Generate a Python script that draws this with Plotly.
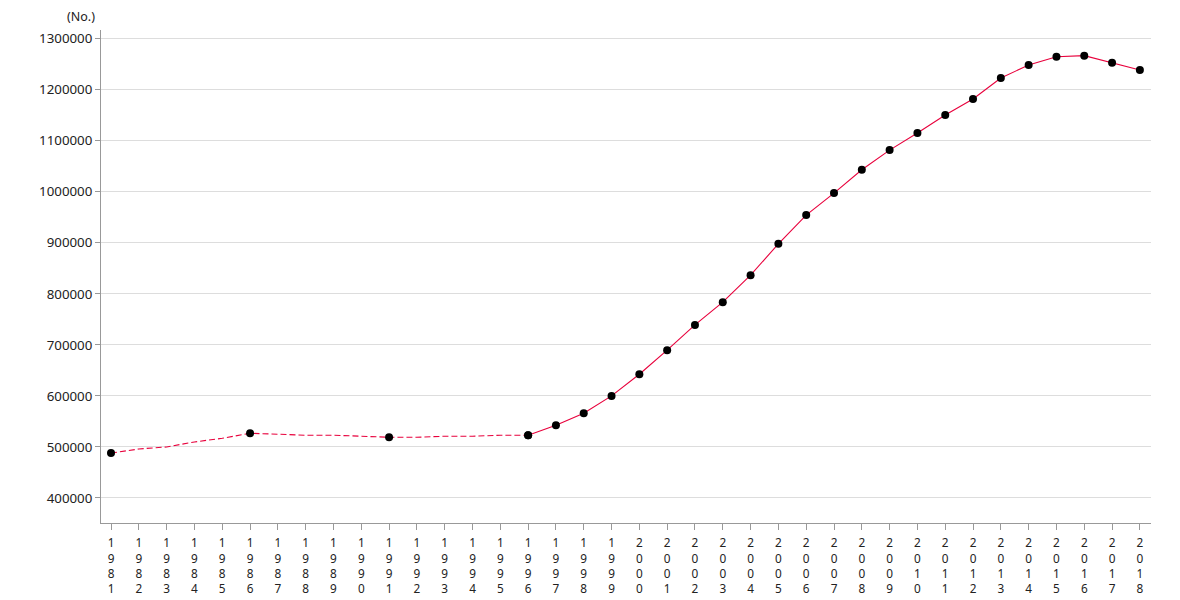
import plotly.graph_objects as go

# Interpolated (dashed) period
years_dash = list(range(1981, 1997))
values_dash = [488000, 496000, 500000, 509800, 517000, 526800, 525000, 523000,
               523000, 521000, 519000, 519000, 521000, 521000, 523000, 523000]

# Measured points in the early period
years_meas_early = [1981, 1986, 1991, 1996]
values_meas_early = [488000, 526800, 519000, 523000]

# Annual series
years_solid = list(range(1996, 2019))
values_solid = [523000, 542500, 566000, 600000, 642500, 689600, 739200, 783700,
                836600, 898000, 954300, 997400, 1043100, 1081700, 1115100, 1150300,
                1181700, 1222900, 1248400, 1264700, 1266700, 1252900, 1238600]

all_years = list(range(1981, 2019))
tick_text = ["<br>".join(str(y)) for y in all_years]
y_ticks = list(range(400000, 1300001, 100000))

LINE = "#e8003c"

fig = go.Figure()
fig.add_trace(go.Scatter(x=years_dash, y=values_dash, mode="lines",
                         line=dict(color=LINE, width=1.1, dash="6px,3px"),
                         showlegend=False, hoverinfo="skip"))
fig.add_trace(go.Scatter(x=years_solid, y=values_solid, mode="lines+markers",
                         line=dict(color=LINE, width=1.1),
                         marker=dict(color="black", size=8),
                         showlegend=False))
fig.add_trace(go.Scatter(x=years_meas_early, y=values_meas_early, mode="markers",
                         marker=dict(color="black", size=8),
                         showlegend=False))

fig.update_layout(
    width=1180, height=600,
    margin=dict(l=93, r=37, t=22, b=85),
    plot_bgcolor="white", paper_bgcolor="white",
    font=dict(family="Noto Sans, Open Sans, sans-serif", size=12, color="#222"),
    xaxis=dict(range=[1980.64, 2018.4], tickmode="array", tickvals=all_years,
               ticktext=tick_text, showgrid=False, showline=True,
               linecolor="#999", linewidth=1, ticks="outside", ticklen=6,
               tickcolor="#999", zeroline=False, tickangle=0, automargin=False,
               ticklabelstandoff=3,
               tickfont=dict(size=11.8, color="#222")),
    yaxis=dict(range=[351000, 1317000], tickmode="array", tickvals=y_ticks,
               ticktext=[str(v) for v in y_ticks], showgrid=True,
               gridcolor="#dddddd", gridwidth=1, showline=True,
               linecolor="#999", linewidth=1, ticks="outside", ticklen=5,
               tickcolor="#999", zeroline=False, automargin=False,
               tickfont=dict(size=13.3, color="#222")),
    annotations=[dict(text="(No.)", xref="paper", yref="paper",
                      x=-0.019, y=1.028, xanchor="center", yanchor="middle",
                      showarrow=False, font=dict(size=12.5, color="#222"))],
)

fig.write_html("out.html")
